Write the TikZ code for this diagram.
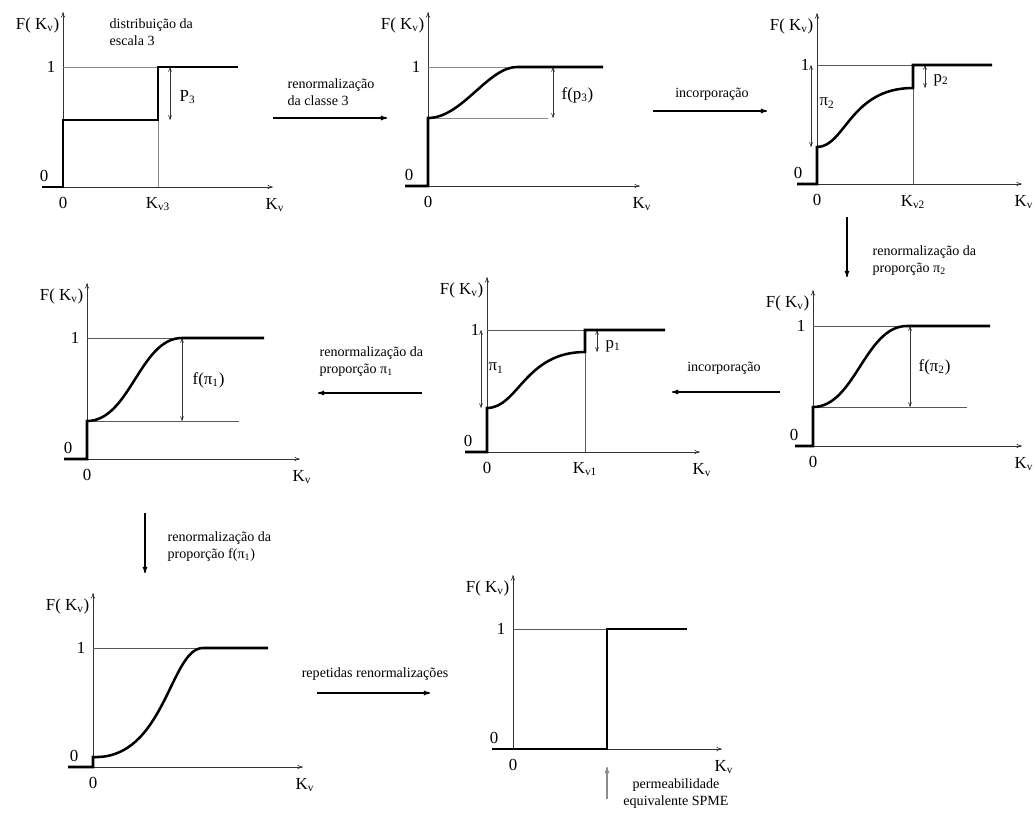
\documentclass[tikz,border=0pt]{standalone}
\usepackage{fontspec}
\setmainfont{Liberation Serif}
\usetikzlibrary{arrows.meta}

\begin{document}
\begin{tikzpicture}[x=0.025cm, y=-0.025cm,
          % eixos dos graficos
          eixo/.style={
              ->,
              >={To[length=1.4mm, width=1.1mm]},
              line width=0.45pt,
              black!80
          },
          % curva F(K_v)
          curva/.style={
              line width=1.8pt,
              line join=miter
          },
          % linhas auxiliares finas
          guia/.style={
              line width=0.45pt,
              black!65
          },
          % cotas com ponta dupla
          cota/.style={
              <->,
              >={To[length=1.2mm, width=1mm]},
              line width=0.45pt,
              black!80
          },
          % setas entre os graficos
          seta/.style={
              ->,
              >={To[length=1.6mm, width=1.2mm]},
              line width=1pt
          },
          rotulo/.style={font=\fontsize{12}{13}\selectfont, inner sep=1pt},
          texto/.style={font=\fontsize{10}{12}\selectfont, align=left, inner sep=1pt}
      ]
          \useasboundingbox (0,0) rectangle (1035,813);

          % 1. Eixos e rotulos comuns dos oito graficos
          \foreach \n/\ox/\oy/\xl/\xr/\yt/\yu in {a/63/187/42/273/12/67, b/428/186/405/640/12/67,
                   c/817/184/797/1022/13/65, d/813/446/795/1022/290/326, e/487/452/465/700/277/330,
                   f/87/459/64/300/283/338, g/93/767/68/303/593/648, h/513/749/492/722/575/629}
          {
              \draw [eixo] (\xl,\oy) -- (\xr,\oy);
              \draw [eixo] (\ox,\oy) -- (\ox,\yt);
              \node [rotulo, anchor=east] (um-\n) at (\ox-6,\yu) {1};
              \node [rotulo] (zy-\n) at (\ox-19,\oy-11) {0};
              \node [rotulo] (zx-\n) at (\ox,\oy+16) {0};
              \node [rotulo] (kv-\n) at (\xr+2,\oy+18) {K\textsubscript{v}};
              \node [rotulo, anchor=east] (fk-\n) at (\ox-2,\yt+13) {F( K\textsubscript{v})};
          }

          % 2. Distribuicao da escala 3
          \draw [guia, black!45] (63,67) -- (158,67);
          \draw [guia, black!45] (158,120) -- (158,187);
          \draw [curva] (42,187) -- (63,187) -- (63,120) -- (158,120) -- (158,67) -- (238,67);
          \draw [cota] (170,67) -- (170,120);
          \node [rotulo, anchor=west] (p3) at (178,97) {P\textsubscript{3}};
          \node [rotulo] (kv3) at (158,204) {K\textsubscript{v3}};
          \node [texto, anchor=north west] (escala) at (108,17) {distribuição da\\escala 3};

          % 3. Renormalizacao da classe 3
          \coordinate (s1a) at (273,118);
          \coordinate (s1b) at (387,118);
          \draw [seta] (s1a) -- (s1b);
          \node [texto, anchor=west] (t1) at (286,92) {renormalização\\da classe 3};

          \draw [guia, black!45] (428,67) -- (517,67);
          \draw [guia, black!45] (428,118) -- (548,118);
          \draw [cota] (553,67) -- (553,118);
          \node [rotulo, anchor=west] (fp3) at (560,95) {f(p\textsubscript{3})};
          \draw [curva] (405,186) -- (428,186) -- (428,118) .. controls (462,118) and (488,67) .. (517,67) -- (603,67);

          % 4. Incorporacao (classe 2)
          \coordinate (s2a) at (653,111);
          \coordinate (s2b) at (767,111);
          \draw [seta] (s2a) -- (s2b);
          \node [texto] (t2) at (712,94) {incorporação};

          \draw [guia] (817,65) -- (913,65);
          \draw [guia] (913,65) -- (913,184);
          \draw [cota] (925,65) -- (925,88);
          \node [rotulo, anchor=west] (p2) at (932,80) {p\textsubscript{2}};
          \draw [cota] (811,65) -- (811,147);
          \node [rotulo, anchor=west] (pi2) at (818,103) {π\textsubscript{2}};
          \node [rotulo] (kv2) at (913,202) {K\textsubscript{v2}};
          \draw [curva] (797,184) -- (817,184) -- (817,147) .. controls (845,147) and (850,88) .. (913,88) -- (913,65) -- (992,65);

          % 5. Renormalizacao da proporcao pi_2
          \coordinate (s3a) at (847,217);
          \coordinate (s3b) at (847,277);
          \draw [seta] (s3a) -- (s3b);
          \node [texto, anchor=west] (t3) at (871,261) {renormalização da\\proporção π\textsubscript{2}};

          \draw [guia] (813,326) -- (907,326);
          \draw [guia] (813,407) -- (967,407);
          \draw [cota] (910,326) -- (910,407);
          \node [rotulo, anchor=west] (fpi2) at (917,367) {f(π\textsubscript{2})};
          \draw [curva] (795,446) -- (813,446) -- (813,407) .. controls (855,407) and (865,326) .. (907,326) -- (990,326);

          % 6. Incorporacao (classe 1)
          \coordinate (s4a) at (780,392);
          \coordinate (s4b) at (672,392);
          \draw [seta] (s4a) -- (s4b);
          \node [texto] (t4) at (724,368) {incorporação};

          \draw [guia] (487,330) -- (585,330);
          \draw [guia] (585,330) -- (585,452);
          \draw [cota] (597,330) -- (597,352);
          \node [rotulo, anchor=west] (p1) at (604,346) {p\textsubscript{1}};
          \draw [cota] (481,330) -- (481,408);
          \node [rotulo, anchor=west] (pi1) at (487,368) {π\textsubscript{1}};
          \node [rotulo] (kv1) at (585,469) {K\textsubscript{v1}};
          \draw [curva] (465,452) -- (487,452) -- (487,408) .. controls (518,408) and (525,352) .. (585,352) -- (585,330) -- (665,330);

          % 7. Renormalizacao da proporcao pi_1
          \coordinate (s5a) at (422,393);
          \coordinate (s5b) at (318,393);
          \draw [seta] (s5a) -- (s5b);
          \node [texto, anchor=west] (t5) at (318,362) {renormalização da\\proporção  π\textsubscript{1}};

          \draw [guia] (87,338) -- (182,338);
          \draw [guia] (87,421) -- (239,421);
          \draw [cota] (182,338) -- (182,421);
          \node [rotulo, anchor=west] (fpi1) at (191,380) {f(π\textsubscript{1})};
          \draw [curva] (64,459) -- (87,459) -- (87,421) .. controls (130,421) and (140,338) .. (182,338) -- (264,338);

          % 8. Renormalizacao da proporcao f(pi_1)
          \coordinate (s6a) at (145,513);
          \coordinate (s6b) at (145,573);
          \draw [seta] (s6a) -- (s6b);
          \node [texto, anchor=west] (t6) at (166,547) {renormalização da\\proporção f(π\textsubscript{1})};

          \draw [guia] (93,648) -- (203,648);
          \draw [curva] (68,767) -- (93,767) -- (93,757) .. controls (165,760) and (170,648) .. (203,648) -- (268,648);

          % 9. Repetidas renormalizacoes
          \coordinate (s7a) at (317,693);
          \coordinate (s7b) at (430,693);
          \draw [seta] (s7a) -- (s7b);
          \node [texto] (t7) at (375,674) {repetidas renormalizações};

          \draw [guia] (513,629) -- (607,629);
          \draw [curva] (492,749) -- (607,749) -- (607,629) -- (687,629);

          % 10. Permeabilidade equivalente
          \coordinate (s8a) at (607,799);
          \coordinate (s8b) at (607,767);
          \draw [seta, black!45] (s8a) -- (s8b);
          \node [texto, align=center] (t8) at (676,794) {permeabilidade\\equivalente SPME};

      \end{tikzpicture}
\end{document}
